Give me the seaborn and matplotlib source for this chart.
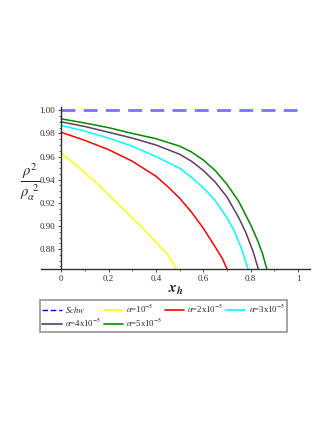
import matplotlib
matplotlib.use("Agg")
import matplotlib.pyplot as plt
from matplotlib.lines import Line2D
from matplotlib.ticker import MultipleLocator, FuncFormatter
import seaborn as sns
import pandas as pd

# ── data ─────────────────────────────────────────────────────────────────────
x_a1 = [0, 0.05, 0.1, 0.15, 0.2, 0.25, 0.3, 0.35, 0.4, 0.45, 0.487]
y_a1 = [0.963, 0.955, 0.946, 0.937, 0.927, 0.917, 0.907, 0.897, 0.886, 0.875, 0.8628]

x_a2 = [0, 0.1, 0.2, 0.3, 0.4, 0.45, 0.5, 0.55, 0.6, 0.65, 0.68, 0.70]
y_a2 = [0.981, 0.974, 0.966, 0.956, 0.943, 0.934, 0.924, 0.912, 0.898, 0.882,
        0.872, 0.8628]

x_a3 = [0, 0.1, 0.2, 0.3, 0.4, 0.5, 0.55, 0.6, 0.65, 0.7, 0.73, 0.76, 0.789]
y_a3 = [0.987, 0.982, 0.976, 0.969, 0.960, 0.950, 0.942, 0.933, 0.922, 0.907,
        0.896, 0.881, 0.8628]

x_a4 = [0, 0.1, 0.2, 0.3, 0.4, 0.5, 0.55, 0.6, 0.65, 0.7, 0.75, 0.78, 0.81, 0.832]
y_a4 = [0.990, 0.986, 0.981, 0.976, 0.970, 0.962, 0.956, 0.948, 0.938, 0.925,
        0.907, 0.894, 0.878, 0.8628]

x_a5 = [0, 0.1, 0.2, 0.3, 0.4, 0.5, 0.55, 0.6, 0.65, 0.7, 0.75, 0.8, 0.83, 0.85, 0.868]
y_a5 = [0.9926, 0.989, 0.985, 0.980, 0.9755, 0.969, 0.964, 0.957, 0.948, 0.936,
        0.921, 0.901, 0.887, 0.876, 0.8628]

x_schw = [0, 1]
y_schw = [1.0, 1.0]

labels = [r"$\alpha$=10$^{-5}$", r"$\alpha$=2x10$^{-5}$", r"$\alpha$=3x10$^{-5}$",
          r"$\alpha$=4x10$^{-5}$", r"$\alpha$=5x10$^{-5}$"]
colors = ["#FFFF00", "#FF0000", "#00FFFF", "#5E3C64", "#008A00"]

sns.set_theme(style="white")
plt.rcParams["font.family"] = ["Liberation Serif", "DejaVu Serif"]
plt.rcParams["mathtext.fontset"] = "stix"

frames = []
for lab, xs, ys in zip(labels, [x_a1, x_a2, x_a3, x_a4, x_a5],
                       [y_a1, y_a2, y_a3, y_a4, y_a5]):
    frames.append(pd.DataFrame({"x": xs, "y": ys, "series": lab}))
df = pd.concat(frames, ignore_index=True)

fig = plt.figure(figsize=(3.32, 4.29), dpi=100)
ax = fig.add_axes([0.1235, 0.373, 0.81, 0.378])

ax.plot(x_schw, y_schw, color="#7474FF", lw=2.0, dashes=(5, 3))
sns.lineplot(data=df, x="x", y="y", hue="series", palette=colors,
             sort=False, estimator=None, lw=1.1, legend=False, ax=ax)

ax.set_xlim(-0.085, 1.05)
ax.set_ylim(0.8628, 1.003)
ax.spines["left"].set_position(("data", 0))
ax.spines["top"].set_visible(False)
ax.spines["right"].set_visible(False)
for s in ("left", "bottom"):
    ax.spines[s].set_color("#303030")
    ax.spines[s].set_linewidth(1.0)

ax.xaxis.set_major_locator(MultipleLocator(0.2))
ax.xaxis.set_minor_locator(MultipleLocator(0.1))
ax.yaxis.set_major_locator(MultipleLocator(0.02))
ax.yaxis.set_minor_locator(MultipleLocator(0.005))
ax.xaxis.set_major_formatter(FuncFormatter(lambda v, p: f"{v:g}"))
ax.yaxis.set_major_formatter(FuncFormatter(lambda v, p: f"{v:.2f}"))
ax.tick_params(which="both", direction="out", labelsize=6.5, colors="#303030",
               left=True, bottom=True)
ax.tick_params(which="major", length=2.5, width=0.6, pad=2)
ax.tick_params(which="minor", length=1.5, width=0.5)
ax.set_xlabel("")
ax.set_ylabel("")
ax.grid(False)

fig.text(0.53, 0.322, r"$\mathbfit{x}_{\mathbfit{h}}$", fontsize=11,
         ha="center", va="center")
fig.text(0.09, 0.575, r"$\frac{\rho^{2}}{\rho_{\alpha}^{\ \,2}}$", fontsize=15,
         ha="center", va="center")

# legend filled column-wise, so order to read row-wise like the reference
h_schw = Line2D([], [], color="#0000CC", lw=1.0, dashes=(4, 2))
h_al = [Line2D([], [], color=c, lw=1.2) for c in colors]
names = [r"$\it{Schw}$"] + labels
hands = [h_schw] + h_al
order = [0, 4, 1, 5, 2, 3]
leg = fig.legend([hands[i] for i in order], [names[i] for i in order],
                 ncol=4, loc="upper left",
                 bbox_to_anchor=(0.12, 0.3), fontsize=6.3,
                 frameon=True, fancybox=False, handlelength=2.2,
                 handletextpad=0.4, columnspacing=0.25, borderpad=0.3,
                 labelspacing=0.25, borderaxespad=0)
leg.get_frame().set_edgecolor("#7a7a7a")
leg.get_frame().set_linewidth(1.2)

fig.savefig("out.png", dpi=100)
